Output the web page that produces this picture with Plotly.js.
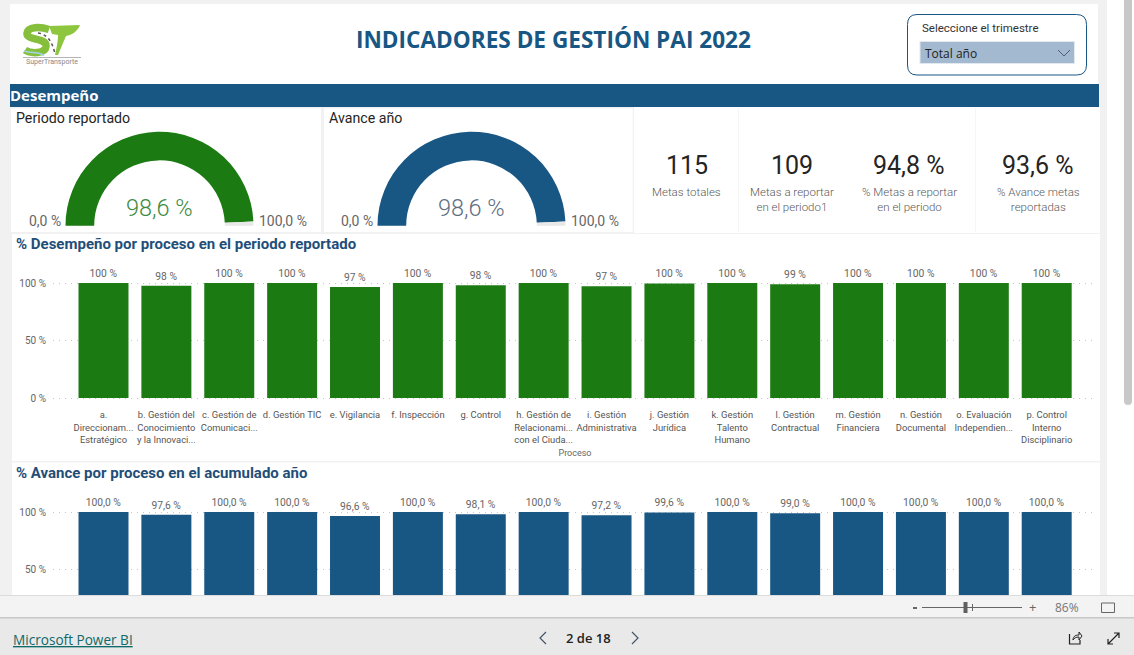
<!DOCTYPE html>
<html><head><meta charset="utf-8">
<script src="https://cdn.plot.ly/plotly-3.0.1.min.js"></script>
<style>html,body{margin:0;padding:0;background:#f1f1f1;overflow:hidden}#c{width:1134px;height:655px}</style>
</head><body><div id="c"></div>
<script>
const categories = ["a.<br>Direccionam...<br>Estratégico","b. Gestión del<br>Conocimiento<br>y la Innovaci...","c. Gestión de<br>Comunicaci...","d. Gestión TIC","e. Vigilancia","f. Inspección","g. Control","h. Gestión de<br>Relacionami...<br>con el Ciuda...","i. Gestión<br>Administrativa","j. Gestión<br>Jurídica","k. Gestión<br>Talento<br>Humano","l. Gestión<br>Contractual","m. Gestión<br>Financiera","n. Gestión<br>Documental","o. Evaluación<br>Independien...","p. Control<br>Interno<br>Disciplinario"];
const desempeno = [100,97.6,100,100,96.6,100,98.1,100,97.2,99.6,100,99.0,100,100,100,100];
const avance = [100,97.6,100,100,96.6,100,98.1,100,97.2,99.6,100,99.0,100,100,100,100];
const gaugePeriodo = 98.6;
const gaugeAvance = 98.6;
const gaugeMax = 100;
const kpiValues = ["115","109","94,8 %","93,6 %"];
const kpiLabels = ["Metas totales","Metas a reportar<br>en el periodo1","% Metas a reportar<br>en el periodo","% Avance metas<br>reportadas"];
const GREEN="#1b7a12", BLUE="#185683", GAUGEREST="#e9e9e9";
const W=1134,H=655;
const px=x=>x/W, py=y=>1-y/H;
const DIN="Roboto, sans-serif", SEG="'Open Sans', sans-serif";

function rect(x0,y0,x1,y1,fill,layer){return {type:"rect",xref:"paper",yref:"paper",x0:px(x0),x1:px(x1),y0:py(y1),y1:py(y0),fillcolor:fill,line:{width:0},layer:layer||"below"};}
function path(pts,opts){
  const d=pts.replace(/(-?[\d.]+),(-?[\d.]+)/g,(m,a,b)=>px(+a)+","+py(+b));
  return Object.assign({type:"path",xref:"paper",yref:"paper",path:d,layer:"above",line:{width:0}},opts);
}
function ann(text,x,y,size,color,o){o=o||{};return {text,xref:"paper",yref:"paper",x:px(x),y:py(y),xanchor:o.xa||"left",yanchor:"middle",showarrow:false,align:o.align||(o.xa==="center"?"center":"left"),font:Object.assign({family:o.family||DIN,size,color},o.font||{}),borderpad:0,borderwidth:0};}

function barTrace(values,color,xa,ya,tmpl){return {type:"bar",x:categories,y:values,xaxis:xa,yaxis:ya,marker:{color,line:{width:3,color:"rgba(255,255,255,0.01)"}},texttemplate:tmpl,textposition:"outside",cliponaxis:false,constraintext:"none",textangle:0,textfont:{family:DIN,size:10.3,color:"#666666"},hoverinfo:"skip",showlegend:false};}
function gaugeTrace(value,color,cx){const r=94,cy=225.7;return {type:"pie",values:[value,gaugeMax-value,gaugeMax],sort:false,direction:"clockwise",rotation:-90,hole:0.695,textinfo:"none",hoverinfo:"skip",showlegend:false,marker:{colors:[color,GAUGEREST,"rgba(0,0,0,0)"],line:{width:0}},domain:{x:[px(cx-r),px(cx+r)],y:[py(cy+r),py(cy-r)]}};}

const data=[barTrace(desempeno,GREEN,"x","y","%{y:.0f} %"),barTrace(avance,BLUE,"x2","y2","%{y:.1f} %"),gaugeTrace(gaugePeriodo,GREEN,159.5),gaugeTrace(gaugeAvance,BLUE,471.5)];

const xRange=[-0.803,15.80];
const axisX={domain:[px(53),px(1097)],type:"category",range:xRange,tickmode:"array",tickvals:categories,ticktext:categories,tickangle:0,showgrid:false,zeroline:false,showline:false,ticks:"outside",ticklen:7,tickcolor:"rgba(0,0,0,0)",tickfont:{family:DIN,size:9.4,color:"#555555"},fixedrange:true,automargin:false};
const axisY={type:"linear",range:[-1,101],tickvals:[0,50,100],ticktext:["0 %","50 %","100 %"],showgrid:true,griddash:"1px,5px",gridcolor:"#c4c4c4",gridwidth:1,zeroline:false,showline:false,tickfont:{family:DIN,size:10,color:"#666666"},ticks:"",ticklabelstandoff:6,fixedrange:true,automargin:false};

const shapes=[
 rect(0,0,W,H,"#f1f1f1"),
 rect(1107,0,W,596,"#ffffff"),
 rect(10,4,1098,84,"#ffffff"),
 rect(10,84,1099,107,BLUE),
 rect(11,108.5,321,232,"#ffffff"),
 rect(324,108.5,632.7,232,"#ffffff"),
 rect(634,107,1100,233,"#ffffff"),
 rect(738,108,738.7,232,"#f1f1f1"),
 rect(975,108,975.7,232,"#f1f1f1"),
 rect(12,234,1100,461,"#ffffff"),
 rect(12,462.5,1100,596,"#ffffff"),
 path("M1124,0 L1132,0 L1132,401 Q1132,405 1128,405 Q1124,405 1124,401 Z",{fillcolor:"#c8c8c8",layer:"below"}),
 path("M917,14.5 L1076.5,14.5 Q1086.5,14.5 1086.5,24.5 L1086.5,65 Q1086.5,75 1076.5,75 L917,75 Q907.5,75 907.5,65 L907.5,24.5 Q907.5,14.5 917,14.5 Z",{fillcolor:"#ffffff",line:{color:BLUE,width:1},layer:"below"}),
 rect(919.5,41,1075,64,"#e2e8ef"),
 rect(920.5,42,1074,63,"#a3b9cf"),
 path("M1058,50 L1064,56 L1070,50",{line:{color:"#4d5f70",width:1},layer:"below"}),
 // logo
 path("M49,29.5 C40,26.5 28,26.5 27,33 C26,41 47,37 46,46.5 C45,54 31,54 25,50",{line:{color:"#86bf3c",width:7.5},layer:"below"}),
 path("M49,26 L80,25 C78,31 72,35 66,36 L58,55 L55,55 C57,46 58,40 58,35 L52,34 Z",{fillcolor:"#8ec63f",layer:"below"}),
 path("M38,33 C46,34 52,40 55,54",{line:{color:"#555555",width:1.5,dash:"dot"},layer:"below"}),
 path("M24,51 C32,54 38,51 44,55.5",{line:{color:"#9fd4dc",width:1.6},layer:"below"}),
 rect(23,57,81,58,"#b5b5b5"),
 // foot of the window, drawn over the plot
 rect(0,595,W,H,"#f3f3f3","above"),
 rect(0,595,W,596,"#dcdcdc","above"),
 rect(0,618,W,H,"#e9e9e9","above"),
 rect(0,617,W,618.5,"#c8c8c8","above"),
 rect(922,607,1022,608,"#666666","above"),
 rect(963.5,602,967.5,613,"#5f5f5f","above"),
 rect(972,604,973,611,"#666666","above"),
 rect(913,607,917,609,"#666666","above"),
 path("M1101.5,603 L1114.5,603 L1114.5,612.5 L1101.5,612.5 Z",{line:{color:"#666666",width:1},fillcolor:"#f3f3f3"}),
 path("M546,632 L540,638 L546,644",{line:{color:"#445566",width:1.2}}),
 path("M632,632 L638,638 L632,644",{line:{color:"#445566",width:1.2}}),
 path("M1069.5,634 L1069.5,644 L1080,644 L1080,640",{line:{color:"#222222",width:1.2}}),
 path("M1073,640 C1073,636 1076,635 1079,635 L1079,632 L1082,636 L1079,640 L1079,637 C1076,637 1074,638 1073,640 Z",{line:{color:"#222222",width:1}}),
 path("M1108,644 L1119,633 M1114,633 L1119,633 L1119,638 M1108,639 L1108,644 L1113,644",{line:{color:"#222222",width:1.2}})
];

const annotations=[
 ann("<b>INDICADORES DE GESTIÓN PAI 2022</b>",553.5,40,22.6,BLUE,{xa:"center",family:SEG}),
 ann("Seleccione el trimestre",922,28,11.5,"#333333",{family:DIN}),
 ann("Total año",924.5,53.5,12,"#222222",{family:SEG}),
 ann("SuperTransporte",52,62,7,"#888888",{xa:"center",family:DIN}),
 ann("<b>Desempeño</b>",10,95.5,15,"#ffffff",{family:SEG}),
 ann("Periodo reportado",16,118,14.2,"#252423"),
 ann("Avance año",329,118,14.2,"#252423"),
 ann("98,6 %",159.5,208,23.5,"#3f8a3f",{xa:"center",font:{weight:300}}),
 ann("98,6 %",471.5,208,23.5,"#5f6f80",{xa:"center",font:{weight:300}}),
 ann("0,0 %",61,221,14,"#666666",{xa:"right"}),
 ann("100,0 %",259,221,14,"#666666"),
 ann("0,0 %",373,221,14,"#666666",{xa:"right"}),
 ann("100,0 %",571,221,14,"#666666"),
 ann("<b>% Desempeño por proceso en el periodo reportado</b>",16,244,15,"#1f4e79"),
 ann("<b>% Avance por proceso en el acumulado año</b>",16,473,15,"#1f4e79"),
 ann("Microsoft Power BI",13,639,13.6,"#0f6a6a",{family:SEG,font:{lineposition:"under"}}),
 ann("2 de 18",588,638,13,"#222222",{xa:"center",family:SEG,font:{weight:600}}),
 ann("+",1032,606.5,13,"#666666",{xa:"center",family:SEG}),
 ann("86%",1067,607.5,12,"#777777",{xa:"center",family:SEG})
];
const kpiX=[686.5,791.5,909,1038];
kpiValues.forEach((v,i)=>{
 annotations.push(ann(v,kpiX[i],166,25,"#252423",{xa:"center"}));
 annotations.push(ann(kpiLabels[i],kpiX[i],kpiLabels[i].includes("<br>")?199.5:192,11.5,"#5a5a5a",{xa:"center",font:{weight:300}}));
});

const layout={width:W,height:H,margin:{l:0,r:0,t:0,b:0},paper_bgcolor:"#f1f1f1",plot_bgcolor:"rgba(0,0,0,0)",separators:",.",showlegend:false,barmode:"group",bargap:0.205,
 xaxis:Object.assign({},axisX,{anchor:"y",title:{text:"Proceso",font:{family:DIN,size:9,color:"#666666"},standoff:5}}),
 yaxis:Object.assign({},axisY,{anchor:"x",domain:[py(399.15),py(281.85)]}),
 xaxis2:Object.assign({},axisX,{anchor:"y2",showticklabels:false,ticks:""}),
 yaxis2:Object.assign({},axisY,{anchor:"x2",domain:[py(628.55),py(510.85)],tickvals:[50,100],ticktext:["50 %","100 %"]}),
 shapes,annotations};
Plotly.newPlot("c",data,layout,{displayModeBar:false,staticPlot:true});
</script></body></html>
